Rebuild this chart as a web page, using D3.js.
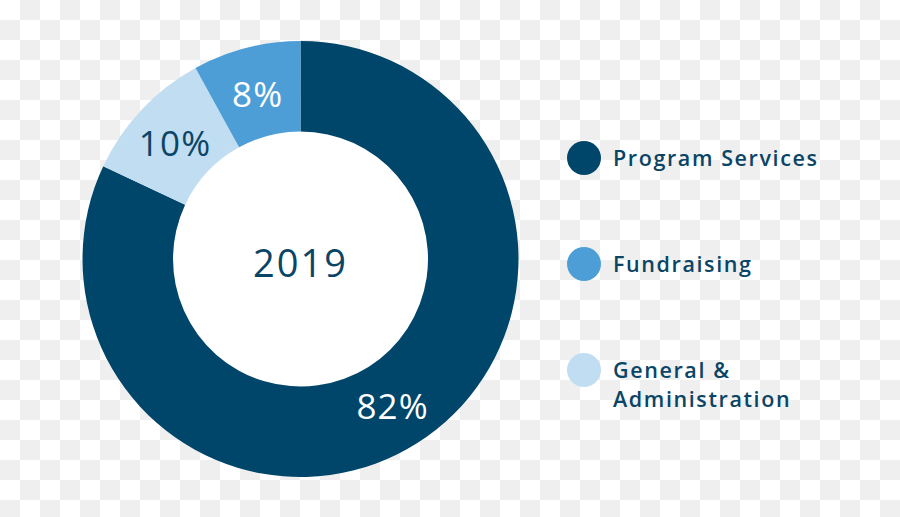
<!DOCTYPE html>
<html>
<head>
<meta charset="utf-8">
<script src="https://cdn.jsdelivr.net/npm/d3@7"></script>
<style>
  html, body { margin: 0; padding: 0; background: #fff; }
  svg { display: block; }
  text { font-family: "Open Sans", "Noto Sans", sans-serif; }
</style>
</head>
<body>
<svg id="chart" width="900" height="517"></svg>
<script>
// Data
const categories = ["Program Services", "General & Administration", "Fundraising"];
const values = [82, 10, 8];
const colors = ["#00466b", "#c0ddf1", "#4d9ed6"];
const labelColors = ["#ffffff", "#0b4566", "#ffffff"];
const legendOrder = ["Program Services", "Fundraising", "General & Administration"];
const legendLines = [["Program Services"], ["Fundraising"], ["General &", "Administration"]];
const centerLabel = "2019";

const W = 900, H = 517;
const svg = d3.select("#chart");

// checkerboard background
const defs = svg.append("defs");
const pat = defs.append("pattern").attr("id", "checker")
  .attr("width", 40).attr("height", 40).attr("patternUnits", "userSpaceOnUse");
pat.append("rect").attr("width", 40).attr("height", 40).attr("fill", "#ffffff");
pat.append("rect").attr("x", 20).attr("y", 0).attr("width", 20).attr("height", 20).attr("fill", "#efefef");
pat.append("rect").attr("x", 0).attr("y", 20).attr("width", 20).attr("height", 20).attr("fill", "#efefef");
svg.append("rect").attr("width", W).attr("height", H).attr("fill", "url(#checker)");

const cx = 300.5, cy = 259, outerR = 218, innerR = 127.5;
const g = svg.append("g").attr("transform", `translate(${cx},${cy})`);

// white hole
g.append("circle").attr("r", innerR).attr("fill", "#ffffff");

const data = categories.map((c, i) => ({ name: c, value: values[i], color: colors[i], lc: labelColors[i] }));
const pie = d3.pie().value(d => d.value).sort(null);
const arc = d3.arc().innerRadius(innerR).outerRadius(outerR);
const labelArc = d3.arc().innerRadius(172).outerRadius(172);

const arcs = pie(data);
g.selectAll("path.slice").data(arcs).join("path")
  .attr("class", "slice")
  .attr("d", arc)
  .attr("fill", d => d.data.color);

g.selectAll("text.pct").data(arcs).join("text")
  .attr("class", "pct")
  .attr("transform", d => { const [x, y] = labelArc.centroid(d); return `translate(${x},${y})`; })
  .attr("text-anchor", "middle")
  .attr("dy", "0.42em")
  .attr("font-size", 35)
  .attr("font-weight", 500)
  .attr("letter-spacing", 1.2)
  .attr("fill", d => d.data.lc)
  .text(d => d.data.value + "%");

g.append("text")
  .attr("text-anchor", "middle")
  .attr("y", 0)
  .attr("dy", "0.48em")
  .attr("font-size", 38)
  .attr("font-weight", 500)
  .attr("letter-spacing", 2)
  .attr("fill", "#0b4566")
  .text(centerLabel);

// legend
const legY = d3.scalePoint().domain(legendOrder).range([158, 370]);
const lg = svg.append("g");
legendOrder.forEach((name, i) => {
  const idx = categories.indexOf(name);
  const y = legY(name);
  lg.append("circle").attr("cx", 584).attr("cy", y).attr("r", 17).attr("fill", colors[idx]);
  const lines = legendLines[i];
  const t = lg.append("text")
    .attr("x", 613)
    .attr("font-size", 21.5)
    .attr("font-weight", 600)
    .attr("letter-spacing", 1.6)
    .attr("fill", "#0b4566");
  lines.forEach((ln, j) => {
    t.append("tspan").attr("x", 613)
      .attr("y", y + 7.5 + j * 29)
      .text(ln);
  });
});
</script>
</body>
</html>
